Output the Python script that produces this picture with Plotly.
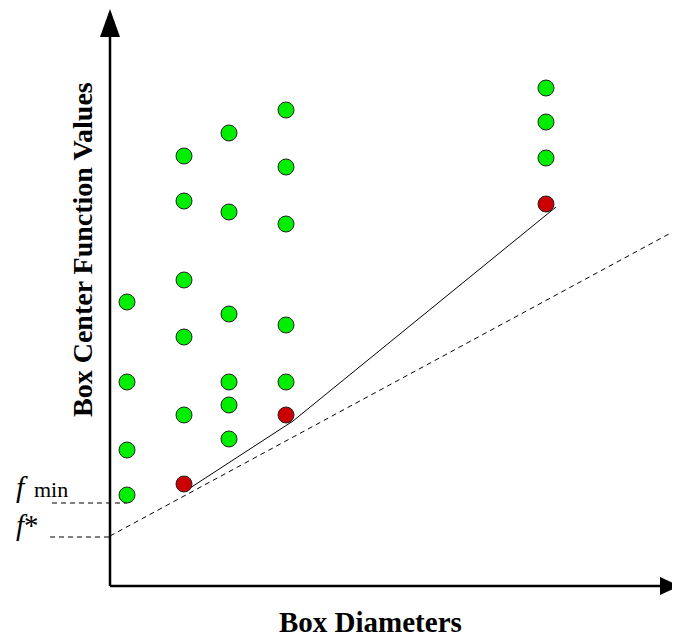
import plotly.graph_objects as go

# Abstract data units (diameter, function value)
green_x = [1.7, 1.7, 1.7, 1.7,
           7.4, 7.4, 7.4, 7.4, 7.4,
           11.9, 11.9, 11.9, 11.9, 11.9, 11.9,
           17.6, 17.6, 17.6, 17.6, 17.6,
           43.6, 43.6, 43.6]
green_y = [28.3, 20.3, 13.5, 9.0,
           42.9, 38.4, 30.5, 24.8, 17.0,
           45.2, 37.3, 27.1, 20.3, 18.0, 14.6,
           47.5, 41.8, 36.1, 26.0, 20.3,
           49.7, 46.3, 42.7]
red_x = [7.4, 17.6, 43.6]
red_y = [10.1, 17.0, 38.1]
hull_x = [8.0, 18.3, 44.6]
hull_y = [9.7, 16.4, 37.8]
f_star = 4.8
f_min = 8.2
bound_x = [0.0, 57.0]
bound_y = [4.9, 35.7]

XMIN, XMAX = -10.2, 57.0
YMIN, YMAX = -5.2, 57.7

dash = "5px,4px"
fig = go.Figure()
fig.add_trace(go.Scatter(x=bound_x, y=bound_y, mode="lines",
                         line=dict(color="black", width=1, dash=dash), hoverinfo="skip"))
fig.add_trace(go.Scatter(x=hull_x, y=hull_y, mode="lines",
                         line=dict(color="black", width=1), hoverinfo="skip"))
fig.add_trace(go.Scatter(x=[-5.8, min(green_x)], y=[f_min, f_min], mode="lines",
                         line=dict(color="black", width=1, dash=dash), hoverinfo="skip"))
fig.add_trace(go.Scatter(x=[-6.0, 0], y=[f_star, f_star], mode="lines",
                         line=dict(color="black", width=1, dash=dash), hoverinfo="skip"))
fig.add_trace(go.Scatter(x=green_x, y=green_y, mode="markers",
                         marker=dict(size=16, color="#00ee00", line=dict(color="#222222", width=1))))
fig.add_trace(go.Scatter(x=red_x, y=red_y, mode="markers",
                         marker=dict(size=16, color="#cc0000", line=dict(color="#222222", width=1))))

shapes = [
    dict(type="line", xref="x", yref="y", x0=0, y0=-0.1, x1=0, y1=54.8,
         line=dict(color="black", width=2.5)),
    dict(type="line", xref="x", yref="y", x0=0, y0=-0.1, x1=55.0, y1=-0.1,
         line=dict(color="black", width=2.5)),
    dict(type="path", xref="x", yref="y",
         path="M -1.0 54.8 L 1.0 54.8 L 0 57.6 Z", fillcolor="black", line=dict(color="black", width=0)),
    dict(type="path", xref="x", yref="y",
         path="M 55.0 0.8 L 55.0 -1.0 L 57.0 -0.1 Z", fillcolor="black", line=dict(color="black", width=0)),
]

serif = "Liberation Serif"
annotations = [
    dict(x=26.0, y=-3.7, xref="x", yref="y", text="<b>Box Diameters</b>", showarrow=False,
         font=dict(family=serif, size=29, color="black")),
    dict(x=-2.8, y=33.5, xref="x", yref="y", text="<b>Box Center Function Values</b>", showarrow=False,
         textangle=-90, font=dict(family=serif, size=28, color="black")),
    dict(x=-9.6, y=9.9, xref="x", yref="y", xanchor="left",
         text="<i>f</i>", showarrow=False,
         font=dict(family=serif, size=30, color="black")),
    dict(x=-7.8, y=9.6, xref="x", yref="y", xanchor="left",
         text="min", showarrow=False,
         font=dict(family=serif, size=22, color="black")),
    dict(x=-9.6, y=6.0, xref="x", yref="y", xanchor="left",
         text="<i>f</i>*", showarrow=False,
         font=dict(family=serif, size=29, color="black")),
]

fig.update_layout(
    width=672, height=629,
    margin=dict(l=0, r=0, t=0, b=0),
    paper_bgcolor="white", plot_bgcolor="white",
    showlegend=False,
    xaxis=dict(range=[XMIN, XMAX], visible=False, fixedrange=True),
    yaxis=dict(range=[YMIN, YMAX], visible=False, fixedrange=True),
    shapes=shapes, annotations=annotations,
)
fig.write_html("out.html")
